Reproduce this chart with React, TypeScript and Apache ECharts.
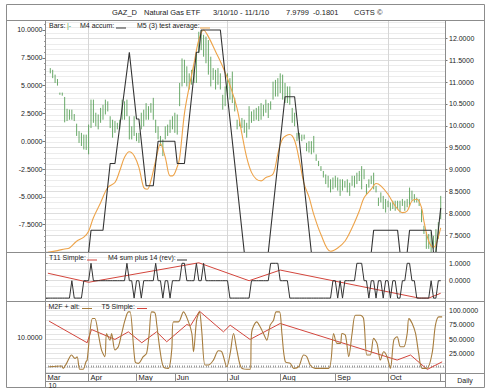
import React, { useEffect, useRef } from 'react';
import * as echarts from 'echarts';

// ---------- axis / calendar data ----------
const DAY_COUNT = 168; // trading-day slots on the x axis
const dayLabels: string[] = Array.from({ length: DAY_COUNT }, (_, i) => String(i));
const monthStarts = [0, 18, 38, 54, 76, 98, 121, 143];
const monthNames = ['Mar', 'Apr', 'May', 'Jun', 'Jul', 'Aug', 'Sep', 'Oct'];
const lastDay = 165;
const quarterStarts = [18, 76, 143];

const mainLeftTicks = [-7.5, -5, -2.5, 0, 2.5, 5, 7.5, 10];
const mainRightTicks = [7.5, 8, 8.5, 9, 9.5, 10, 10.5, 11, 11.5, 12];
const p2Ticks = [0, 1];
const p3RightTicks = [25, 50, 75, 100];
const p3LeftTicks = [10];

// ---------- price bars (GAZ_D), day 2 .. 165 ----------
const barFirstDay = 2;
const barHigh = [
  11.32, 11.28, 11.17, 11.07, 10.76, 10.76, 10.66, 10.39, 10.37, 10.37,
  10.27, 10.05, 9.88, 9.84, 9.8, 9.8, 10.03, 10.6, 10.6, 10.3,
  10.26, 10.41, 10.48, 10.6, 10.56, 10.22, 10.14, 10.11, 10.07, 10.14,
  10.6, 10.56, 10.6, 10.22, 9.99, 10.22, 9.84, 9.84, 10.3, 10.37,
  10.52, 10.45, 10.52, 10.64, 10.14, 9.99, 9.77, 9.69, 9.99, 10.03,
  10.14, 10.22, 10.3, 10.26, 10.98, 11.54, 11.51, 11.36, 11.2, 11.28,
  11.36, 11.66, 12.15, 12.19, 12.08, 12.04, 11.96, 11.58, 11.32, 11.28,
  11.32, 11.2, 10.71, 10.9, 11.2, 11.09, 11.24, 10.64, 10.14, 10.11,
  10.18, 10.14, 10.07, 10.45, 10.33, 10.37, 10.41, 10.45, 10.52, 10.48,
  10.6, 10.52, 10.56, 11.01, 11.05, 11.09, 11.2, 11.17, 10.98, 10.9,
  10.9, 10.41, 10.3, 9.84, 9.84, 9.8, 9.8, 9.61, 9.65, 9.65,
  9.77, 9.35, 9.2, 9.08, 8.97, 8.89, 8.86, 8.78, 8.82, 8.86,
  8.82, 8.78, 8.78, 8.74, 8.78, 8.7, 8.86, 8.86, 8.93, 8.97,
  9.08, 9.01, 8.67, 8.78, 8.86, 8.93, 8.63, 8.36, 8.48, 8.4,
  8.33, 8.29, 8.25, 8.29, 8.29, 8.29, 8.29, 8.33, 8.29, 8.33,
  8.59, 8.52, 8.44, 8.36, 8.33, 8.1, 7.72, 7.57, 7.53, 7.57,
  7.49, 7.64, 7.8, 8.4,
];
const barLow = [
  11.2, 11.09, 10.98, 10.92, 10.71, 10.69, 10.08, 10.11, 10.14, 10.14,
  10.11, 9.77, 9.61, 9.54, 9.46, 9.45, 9.35, 9.95, 10.07, 9.99,
  9.92, 10.07, 10.14, 10.26, 10.33, 9.95, 9.73, 9.84, 9.92, 9.92,
  10.14, 10.14, 10.22, 9.69, 9.69, 9.77, 9.65, 9.61, 9.92, 9.99,
  10.14, 10.14, 10.3, 10.14, 9.84, 9.69, 9.54, 9.31, 9.69, 9.77,
  9.84, 9.92, 9.84, 9.8, 10.45, 10.9, 10.98, 10.9, 10.83, 10.94,
  10.98, 10.98, 11.66, 11.73, 11.58, 11.43, 11.17, 10.9, 11.05, 10.83,
  10.94, 10.83, 10.37, 10.45, 10.67, 10.6, 10.52, 10.33, 9.92, 9.99,
  9.95, 9.84, 9.73, 9.92, 10.07, 10.11, 10.14, 10.11, 10.14, 10.22,
  10.3, 10.18, 10.37, 10.6, 10.67, 10.67, 10.75, 10.6, 10.52, 10.52,
  10.48, 10.07, 9.99, 9.65, 9.69, 9.65, 9.69, 9.42, 9.39, 9.35,
  9.39, 9.2, 9.08, 8.97, 8.82, 8.67, 8.59, 8.48, 8.55, 8.59,
  8.52, 8.4, 8.52, 8.59, 8.48, 8.4, 8.63, 8.59, 8.67, 8.74,
  8.55, 8.78, 8.44, 8.59, 8.67, 8.55, 8.48, 8.17, 8.25, 8.1,
  8.02, 8.14, 8.06, 8.1, 8.06, 8.1, 8.02, 8.17, 8.06, 8.14,
  8.17, 8.29, 8.25, 8.25, 8.17, 7.8, 7.53, 7.19, 7.19, 7.11,
  7.19, 7.11, 7.42, 7.87,
];

// ---------- M4 accum (black) & M5 (3) test average (orange): [day, value] ----------
const m4Accum: [number, number][] = [
  [0, -10], [18, -10], [19, -8], [24, -8], [27, -2], [29, -2], [35, 8], [38, 2], [39, 2],
  [42, -4], [45, -4], [47, 0], [54, 0], [55, -2], [58, -2], [63, 8], [64, 8], [65, 10],
  [73, 10], [83, -10], [93, -10], [100, 4], [104, 4], [111, -10], [136, -10], [137, -8],
  [147, -8], [148, -10], [151, -10], [152, -8], [161, -8], [162, -10], [163, -10], [165, -6],
];
const m5Average: [number, number][] = [
  [1, -9.98], [5, -9.83], [8, -9.68], [10, -9.59], [13, -8.99], [16, -8.62], [18, -8.08],
  [20, -6.87], [23, -5.52], [26, -4.16], [29, -3.71], [31, -2.65], [33, -1.45], [35, -0.94],
  [37, -1.3], [39, -2.35], [41, -4.16], [42.5, -4.31], [44, -3.55], [46, -1.75], [48, -0.24],
  [50, -1.45], [52, -3.11], [53, -3.11], [55, -2.3], [56, -1.5], [58, 2.48], [60, 4.89],
  [62, 7.0], [64, 9.1], [66, 10.0], [68, 9.4], [71, 8.06], [74, 6.69], [77, 5.04], [80, 2.93],
  [82, 0.67], [84, -1.45], [86, -2.8], [88, -3.41], [90, -3.56], [92, -3.26], [95, -2.95],
  [97, -1.15], [99, 0.21], [102, 0.6], [104, 0.06], [106, -1.75], [108, -3.86], [110, -5.0],
  [112, -6.57], [115, -8.38], [119, -9.89], [122, -9.59], [125, -8.99], [128, -7.78],
  [131, -6.27], [133, -5.07], [136, -4.31], [138, -3.8], [140, -4.01], [143, -4.77],
  [146, -5.82], [149, -6.42], [151, -6.27], [153, -5.37], [155, -5.22], [157, -5.97],
  [158, -7.2], [160, -8.99], [162, -9.53], [163, -9.29], [165, -7.78],
];

// ---------- panel 2: T11 Simple (red) & M4 sum plus 14 (rev) (black) ----------
const t11Simple: [number, number][] = [
  [1, 0.43], [18, -0.09], [64, 1.03], [85, 0.0], [98, 0.61], [156, -1.0], [160, -1.0], [165, -0.72],
];
const m4SumRev = [
  -1, -1, -1, -1, -1, -1, -1, -1, -1, -1, -1, 0, -1, -1, -1, -1, 0, 0, 0, 1,
  0, 0, 0, 0, 0, 0, 0, 0, 0, 0, 0, 0, 0, 0, 1, 0, 0, -1, 0, 0,
  -1, 0, 0, 0, 0, 0, 1, 0, 0, -1, 0, 0, -1, 0, 0, 0, 0, 1, 1, 0,
  0, 0, 0, 1, 0, 0, 1, 0, 0, 0, 0, 0, 0, 0, 0, 0, 0, -1, -1, -1,
  -1, -1, -1, -1, -1, -1, 0, 0, 0, 0, 0, 0, 0, 0, 1, 1, 1, 1, 0, 0,
  0, 0, -1, -1, -1, -1, -1, -1, -1, -1, -1, -1, -1, -1, -1, -1, -1, -1, -1, -1,
  0, 0, -1, 0, -1, 0, 0, 0, 0, 0, 1, 1, 1, 0, 0, -1, 0, 0, -1, 0,
  0, -1, 0, 0, -1, 0, 0, -1, -1, 0, 0, 1, 1, 0, 0, -1, -1, -1, -1, -1,
  -1, 0, -1, -1, 0, 0,
];

// ---------- panel 3: M2F + alt (brown) & T5 Simple (red) ----------
const m2fAlt: [number, number][] = [
  [1.5, 1.4], [6.7, 2.6], [7.4, -1.5], [8.8, 7.3], [10.9, 21.9], [12.3, 16], [13.2, 19],
  [14.3, -3.2], [15.7, -3.2], [16.9, 10.2], [17.4, 13.1], [18.5, 59.9], [19.6, 86.2],
  [20.6, 86.2], [22, 59.9], [23.4, 30.7], [24.8, 19], [25.5, 59.9], [26.9, 48.2], [27.6, 59.9],
  [29, 30.7], [30.4, 36.5], [31.8, 59.9], [33.2, 83.3], [34.6, 97.9], [35.3, 97.9], [37.4, 10.2],
  [38.8, 7.3], [40.8, 19], [42.2, 24.8], [43.3, 59.9], [44.3, 97.9], [45.7, 96.2], [46.4, 77.5],
  [47.8, 30.7], [49.2, 1.4], [51.3, -1.5], [52.7, 30.7], [53.4, 80.4], [55.5, 80.4], [57.6, 97.9],
  [59.7, 80.4], [61.1, 59.9], [61.8, 27.8], [63.1, 83.3], [64.3, 97.9], [65.2, 65.8], [66.6, 4.4],
  [68, 4.4], [70.1, 13.1], [72.2, 29.5], [73.6, 27.8], [75.7, 1.4], [77.1, 24.8], [78.5, 59.9],
  [79.9, 30.7], [82, -1.5], [85.4, -3.2], [86.1, 62.8], [88.2, 80.4], [89.6, 71.6], [91, 59.9],
  [92.4, 48.2], [93.8, 74.5], [95.2, 83.3], [96.3, 97.9], [97.7, 97.9], [98.7, 59.9], [100.1, 10.2],
  [102.2, 7.3], [103.6, -1.5], [105.7, 1.4], [107.8, 21.9], [109.1, 19], [110.5, 4.4],
  [112.6, -1.5], [118.2, -1.5], [120.3, 59.9], [121.7, 42.4], [123.1, 42.4], [123.8, 59.9],
  [125.2, 57], [126.6, 19], [128, 59.9], [129.4, 92.1], [131.4, 92.1], [132.8, 86.2],
  [134.2, 21.9], [135.6, 21.9], [137, 51.2], [138.4, 42.4], [139.8, 13.1], [141.2, 27.8],
  [142.6, 19], [144, -1.5], [145.4, 48.2], [146.8, 54.1], [148.2, 36.5], [149.6, 36.5],
  [151, 59.9], [151.7, 86.2], [153.1, 77.5], [154.5, 59.9], [155.8, 24.8], [157.2, -1.5],
  [159.3, -1.5], [161.4, 24.8], [162.8, 74.5], [164.2, 89.2], [165.6, 89.2],
];
const t5Simple: [number, number][] = [
  [1.5, 81.6], [17.4, 43.6], [19.2, 66.9], [29, 49.4], [34.6, 62.8], [40.2, 43.6], [46.4, 62.8],
  [50.6, 45.3], [59, 75.7], [60.5, 73.4], [64.3, 99.1], [74.3, 62.8], [77.1, 74.5], [85.4, 49.4],
  [98, 77.5], [146.8, 13.1], [152.4, 22], [159.4, -3.4], [165.6, 10],
];

// ---------- styling ----------
const FONT = '"Liberation Sans", Arial, Helvetica, sans-serif';
const FRAME = '#8c8c8c';
const TXT = '#222';
const C_BAR = '#4f9a4f';
const C_BLACK = '#333333';
const C_ORANGE = '#eda349';
const C_RED = '#d3453c';
const C_BROWN = '#a67c3d';

const tickFmt = (list: number[]) => (v: number) =>
  list.some((t) => Math.abs(t - v) < 1e-6) ? v.toFixed(4) : '';

function buildOption(): any {
  const gridDefs = [
    { left: 45.5, right: 44.5, top: 20.5, height: 232 },
    { left: 45.5, right: 44.5, top: 252.5, height: 49 },
    { left: 45.5, right: 44.5, top: 301.5, height: 72 },
  ];
  const quarterSplit = {
    show: true,
    interval: (i: number) => quarterStarts.includes(i),
    lineStyle: { color: '#d6d6d6', width: 1 },
  };
  const catAxis = (gridIndex: number, extra: any = {}) => ({
    type: 'category',
    gridIndex,
    data: dayLabels,
    boundaryGap: false,
    axisLine: { show: false },
    axisTick: { show: false },
    axisLabel: { show: false },
    splitLine: quarterSplit,
    ...extra,
  });
  const valAxis = (gridIndex: number) => ({
    type: 'value',
    gridIndex,
    min: 0,
    max: DAY_COUNT - 1,
    show: false,
    splitLine: { show: false },
  });

  const labelStyle = { fontSize: 7, color: TXT, fontFamily: FONT };

  const xAxis = [
    catAxis(0), // 0
    valAxis(0), // 1
    catAxis(1), // 2
    valAxis(1), // 3
    catAxis(2, {
      axisTick: { show: true, interval: 0, inside: true, length: 2, lineStyle: { color: '#9a9a9a' } },
    }), // 4
    catAxis(2, {
      position: 'bottom',
      splitLine: { show: false },
      axisTick: {
        show: true,
        inside: false,
        length: 8,
        interval: (i: number) => monthStarts.includes(i) || i === lastDay,
        lineStyle: { color: FRAME },
      },
      axisLabel: {
        show: true,
        interval: (i: number) => monthStarts.includes(i),
        formatter: (_v: string, i: number) => monthNames[monthStarts.indexOf(i)] ?? '',
        align: 'left',
        verticalAlign: 'middle',
        padding: [0, 0, 0, 2],
        margin: 4,
        lineHeight: 8,
        fontSize: 7.5,
        color: TXT,
        fontFamily: FONT,
      },
    }), // 5
    valAxis(2), // 6
  ];

  const yAxis = [
    {
      // 0: main left (indicators)
      type: 'value', gridIndex: 0, position: 'left', min: -10, max: 10.85, interval: 2.5,
      axisLine: { show: false },
      axisTick: { show: true, length: 3, lineStyle: { color: '#777' } },
      minorTick: { show: true, splitNumber: 5, length: 1.5, lineStyle: { color: '#999' } },
      axisLabel: { ...labelStyle, margin: 3, formatter: tickFmt(mainLeftTicks) },
      splitLine: { show: false },
    },
    {
      // 1: main right (price)
      type: 'value', gridIndex: 0, position: 'right', min: 7.107, max: 12.407, splitNumber: 10,
      axisLine: { show: false },
      axisTick: { show: true, length: 2, lineStyle: { color: '#777' } },
      minorTick: { show: false, splitNumber: 4 },
      axisLabel: { ...labelStyle, margin: 3.5, formatter: tickFmt(mainRightTicks) },
      splitLine: { show: true, lineStyle: { color: '#dedede' } },
      minorSplitLine: { show: true, lineStyle: { color: '#ececec' } },
    },
    {
      // 2: panel 2 right
      type: 'value', gridIndex: 1, position: 'right', min: -1.195, max: 1.621, splitNumber: 3,
      axisLine: { show: false },
      axisTick: { show: true, length: 2, lineStyle: { color: '#777' } },
      minorTick: { show: false, splitNumber: 3 },
      axisLabel: { ...labelStyle, margin: 3.5, formatter: tickFmt(p2Ticks) },
      splitLine: { show: true, lineStyle: { color: '#dedede' } },
      minorSplitLine: { show: true, lineStyle: { color: '#ececec' } },
    },
    {
      // 3: panel 3 right (0-100)
      type: 'value', gridIndex: 2, position: 'right', min: -10.56, max: 116.2, splitNumber: 25,
      axisLine: { show: false },
      axisTick: { show: false },
      axisLabel: { ...labelStyle, margin: 3.5, formatter: tickFmt(p3RightTicks) },
      splitLine: { show: false },
    },
    {
      // 4: panel 3 left
      type: 'value', gridIndex: 2, position: 'left', min: 0, max: 20, interval: 10,
      axisLine: { show: false },
      axisTick: { show: false },
      axisLabel: { ...labelStyle, margin: 3, formatter: tickFmt(p3LeftTicks) },
      splitLine: { show: false },
    },
    {
      // 5: panel 3 gridline helper
      type: 'value', gridIndex: 2, position: 'right', min: -1.267, max: 13.94, splitNumber: 15,
      axisLine: { show: false }, axisTick: { show: false }, axisLabel: { show: false },
      splitLine: { show: true, lineStyle: { color: '#e4e4e4' } },
    },
  ];

  const lineSeries = (name: string, data: any[], xi: number, yi: number, color: string, width = 1, smooth: number | boolean = false) => ({
    name,
    type: 'line',
    data,
    xAxisIndex: xi,
    yAxisIndex: yi,
    showSymbol: false,
    symbol: 'none',
    smooth,
    connectNulls: true,
    lineStyle: { color, width },
    itemStyle: { color },
    z: 3,
  });

  const barData = barHigh.map((h, k) => [barFirstDay + k, barLow[k], h]);

  const series: any[] = [
    {
      name: 'Bars',
      type: 'custom',
      xAxisIndex: 1,
      yAxisIndex: 1,
      clip: true,
      data: barData,
      encode: { x: 0, y: [1, 2] },
      renderItem: (_p: any, api: any) => {
        const d = api.value(0);
        const top = api.coord([d, api.value(2)]);
        const bot = api.coord([d, api.value(1)]);
        return {
          type: 'line',
          shape: { x1: top[0], y1: top[1], x2: bot[0], y2: bot[1] },
          style: { stroke: C_BAR, lineWidth: 1, opacity: 0.85 },
        };
      },
      z: 2,
    },
    lineSeries('M5 (3) test average', m5Average, 1, 0, C_ORANGE, 1.1, 0.35),
    lineSeries('M4 accum', m4Accum, 1, 0, C_BLACK, 1.1),
    lineSeries('T11 Simple', t11Simple, 3, 2, C_RED, 1),
    lineSeries('M4 sum plus 14 (rev)', m4SumRev.map((v, i) => [i, v]), 3, 2, C_BLACK, 1),
    lineSeries('T5 Simple', t5Simple, 6, 3, C_RED, 1),
    lineSeries('M2F + alt', m2fAlt, 6, 3, C_BROWN, 1.1, 0.3),
  ];

  const hline = (y: number, x1: number, x2: number) => ({
    type: 'line', silent: true, z: 100,
    shape: { x1, y1: y, x2, y2: y },
    style: { stroke: FRAME, lineWidth: 1 },
  });
  const vline = (x: number, y1: number, y2: number) => ({
    type: 'line', silent: true, z: 100,
    shape: { x1: x, y1, x2: x, y2 },
    style: { stroke: FRAME, lineWidth: 1 },
  });
  const txt = (text: string, x: number, y: number, extra: any = {}) => ({
    type: 'text', silent: true, z: 101, x, y,
    style: { text, fill: TXT, fontSize: 7, fontFamily: FONT, verticalAlign: 'middle', align: 'left', ...extra },
  });
  const key = (x: number, y: number, color: string) => ({
    type: 'line', silent: true, z: 101,
    shape: { x1: x, y1: y, x2: x + 10, y2: y },
    style: { stroke: color, lineWidth: 1 },
  });

  const graphic = [
    {
      type: 'rect', silent: true, z: 100,
      shape: { x: 6.5, y: 4.5, width: 478, height: 383 },
      style: { fill: 'none', stroke: FRAME, lineWidth: 1 },
    },
    hline(20.5, 6.5, 484.5),
    hline(252.5, 6.5, 484.5),
    hline(301.5, 6.5, 484.5),
    hline(373.5, 45.5, 484.5),
    hline(381.5, 45.5, 445.5),
    vline(45.5, 20.5, 387.5),
    vline(445.5, 20.5, 387.5),
    // title
    txt('GAZ_D', 112, 12.5, { fontSize: 7.5 }),
    txt('Natural Gas ETF', 144, 12.5, { fontSize: 7.5 }),
    txt('3/10/10 - 11/1/10', 213, 12.5, { fontSize: 7.5 }),
    txt('7.9799', 286, 12.5, { fontSize: 7.5 }),
    txt('-0.1801', 313, 12.5, { fontSize: 7.5 }),
    txt('CGTS \u00A9', 354, 12.5, { fontSize: 7.5 }),
    // main legend
    txt('Bars:', 49, 25.5),
    txt('|-', 67, 25.5, { fill: C_BAR }),
    txt('M4 accum:', 80, 25.5),
    key(116, 28, C_BLACK),
    txt('M5 (3) test average:', 137, 25.5),
    key(200, 28, C_ORANGE),
    // panel 2 legend
    txt('T11 Simple:', 49, 257),
    key(87, 260, C_RED),
    txt('M4 sum plus 14 (rev):', 108, 257),
    key(177, 260, C_BLACK),
    // panel 3 legend
    txt('M2F + alt:', 48.5, 306),
    key(82, 308.5, C_BROWN),
    txt('T5 Simple:', 101.5, 306),
    key(137, 308.5, C_RED),
    // bottom
    txt('10', 48.5, 385),
    txt('Daily', 465, 380.5, { align: 'center' }),
  ];

  return {
    animation: false,
    backgroundColor: '#ffffff',
    textStyle: { fontFamily: FONT },
    grid: gridDefs.map((g) => ({ ...g, containLabel: false, outerBoundsMode: 'none' })),
    xAxis,
    yAxis,
    series,
    graphic,
  };
}

export default function App() {
  const ref = useRef<HTMLDivElement>(null);
  useEffect(() => {
    document.body.style.margin = '0';
    if (!ref.current) return;
    const chart = echarts.init(ref.current, null, { renderer: 'svg' });
    chart.setOption(buildOption());
    return () => chart.dispose();
  }, []);
  return <div ref={ref} style={{ width: 490, height: 392, background: '#fff' }} />;
}
